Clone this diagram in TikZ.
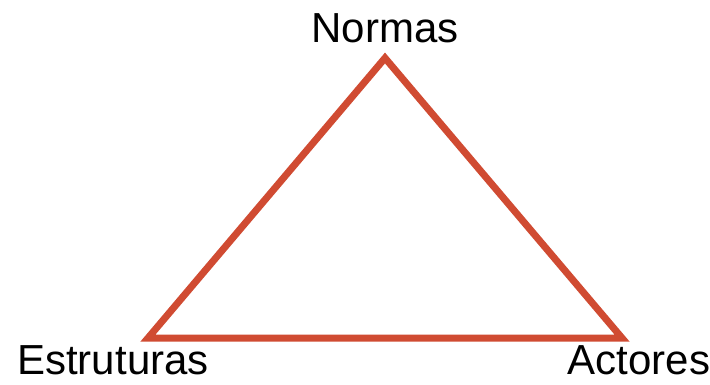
\documentclass[tikz,border=0pt]{standalone}
\usepackage{fontspec}
\setmainfont{Liberation Sans}
\usepackage{tikz}
\usetikzlibrary{positioning}
\definecolor{Brick}{HTML}{D04B32}
\tikzset{
 side/.style={draw=Brick,line width=7pt,line join=miter},
 corner/.style={font=\fontsize{42}{50}\selectfont,text=black,inner sep=0pt}
}
\begin{document}
\begin{tikzpicture}[x=1pt,y=-1pt]
\useasboundingbox (0,0) rectangle (710,384);
\coordinate (top) at (385,58);
\coordinate (left) at (148,338);
\coordinate (right) at (622,338);
\draw[side] (top)--(left)--(right)--cycle;
\node[corner,anchor=base] (normas) at (385,42) {Normas};
\node[corner,anchor=base] (estruturas) at (113,374) {Estruturas};
\node[corner,anchor=base] (actores) at (639,374) {Actores};
\end{tikzpicture}
\end{document}
